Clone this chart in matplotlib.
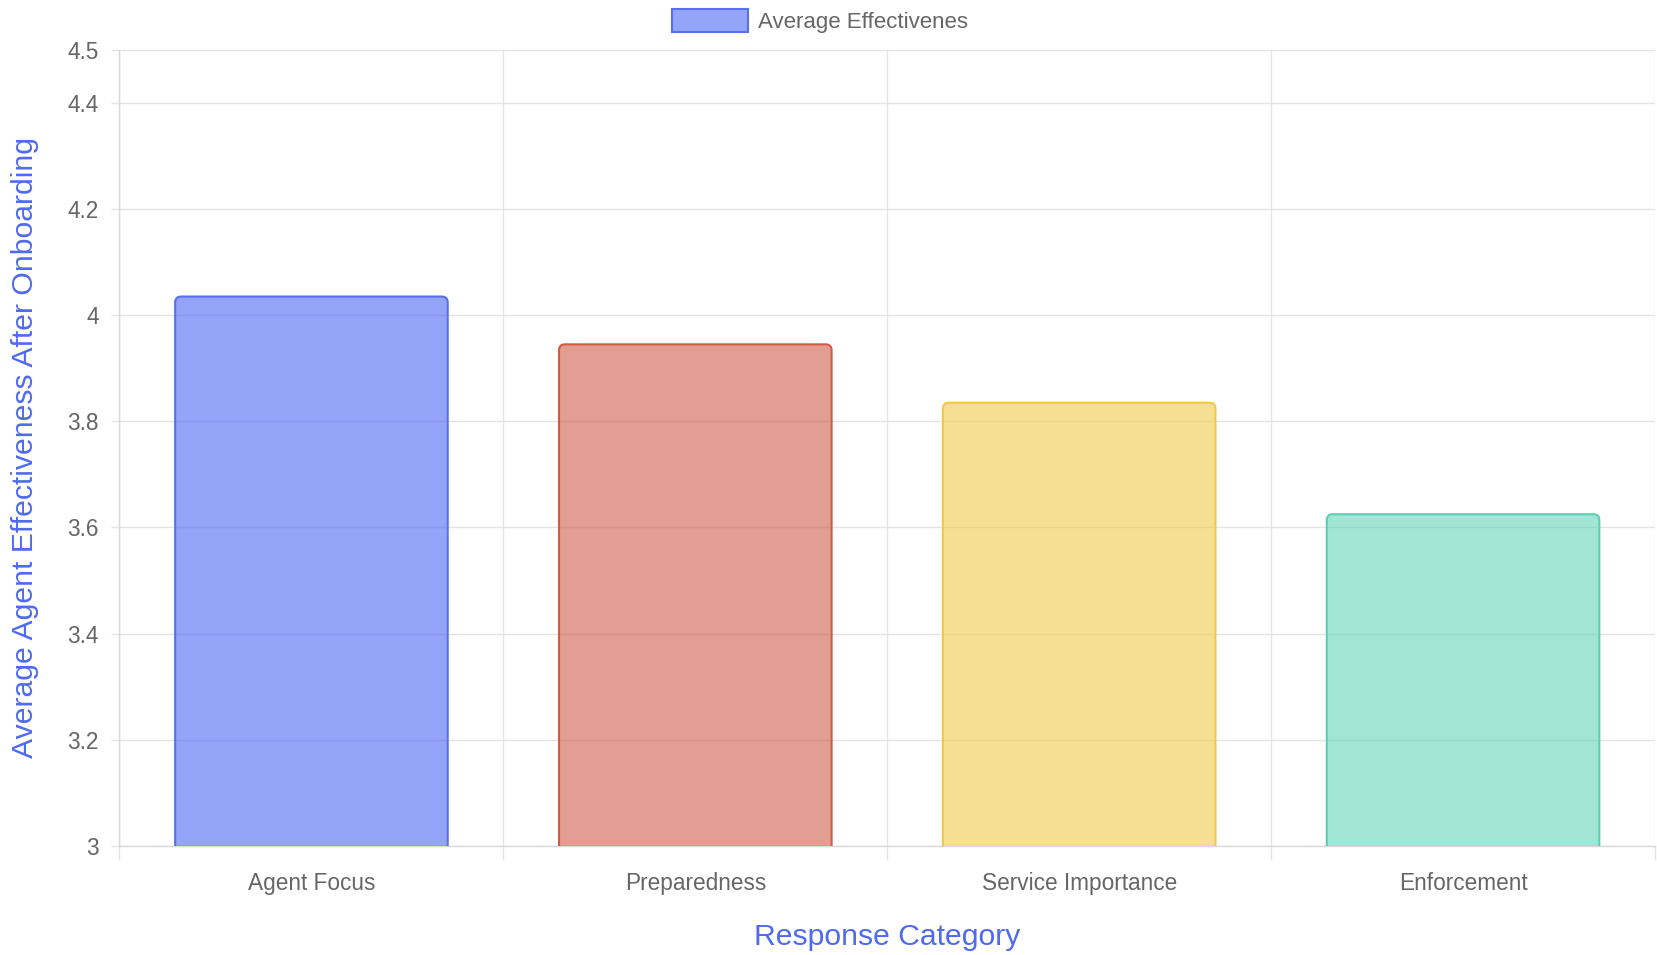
import matplotlib
matplotlib.use("Agg")
import matplotlib.pyplot as plt
from matplotlib.patches import FancyBboxPatch, Patch
from matplotlib.ticker import FixedLocator

# Data
categories = ["Agent Focus", "Preparedness", "Service Importance", "Enforcement"]
effectiveness = [4.035, 3.945, 3.835, 3.625]
y_ticks = [3, 3.2, 3.4, 3.6, 3.8, 4, 4.2, 4.4, 4.5]
y_tick_labels = ["3", "3.2", "3.4", "3.6", "3.8", "4", "4.2", "4.4", "4.5"]
series_label = "Average Effectivenes"
x_title = "Response Category"
y_title = "Average Agent Effectiveness After Onboarding"

base_rgb = [(77, 103, 243), (208, 93, 73), (243, 202, 72), (97, 213, 188)]
edge_rgb = [(88, 112, 240), (214, 88, 66), (242, 200, 75), (95, 205, 180)]

def rgba(c, a):
    return (c[0] / 255, c[1] / 255, c[2] / 255, a)

plt.rcParams["font.family"] = ["Liberation Sans", "DejaVu Sans"]
TEXT = "#666666"
GRID = "#e4e4e4"
TITLE = "#4f6af0"

W, H, DPI = 1658, 955, 100
fig = plt.figure(figsize=(W / DPI, H / DPI), dpi=DPI)
left, right, top, bottom = 119.5, 1655, 49.7, 846
ax = fig.add_axes([left / W, 1 - bottom / H, (right - left) / W, (bottom - top) / H])

ymin, ymax = 3, 4.5
ax.set_xlim(-0.5, len(categories) - 0.5)
ax.set_ylim(ymin, ymax)

# Bars: draw with ax.bar, then swap each rectangle for a rounded-top patch
bar_width = 0.71
bars = ax.bar(range(len(categories)), [v - ymin for v in effectiveness],
              bottom=ymin, width=bar_width)
px_x = (len(categories)) / (right - left)
px_y = (ymax - ymin) / (bottom - top)
radius_px = 6
for i, rect in enumerate(bars.patches):
    x0 = rect.get_x()
    w = rect.get_width()
    y_top = rect.get_y() + rect.get_height()
    y_base = ymin - 10 * px_y  # hide lower corners below the axis
    rect.set_visible(False)
    patch = FancyBboxPatch(
        (x0, y_base), w, y_top - y_base,
        boxstyle=f"round,pad=0,rounding_size={radius_px * px_x}",
        mutation_aspect=px_y / px_x,
        facecolor=rgba(base_rgb[i], 0.6),
        edgecolor=rgba(edge_rgb[i], 1.0),
        linewidth=1.5, zorder=3, clip_on=True,
    )
    ax.add_patch(patch)

# Axes styling
for s in ["top", "right"]:
    ax.spines[s].set_visible(False)
for s in ["left", "bottom"]:
    ax.spines[s].set_color("#d9d9d9")
    ax.spines[s].set_linewidth(1.0)

ax.yaxis.set_major_locator(FixedLocator(y_ticks))
ax.set_yticklabels(y_tick_labels)
ax.set_xticks(range(len(categories)))
ax.set_xticklabels(categories)
ax.xaxis.set_minor_locator(FixedLocator([i - 0.5 for i in range(len(categories) + 1)]))

ax.tick_params(axis="y", which="major", length=6, width=1, color=GRID,
               labelsize=16.3, labelcolor=TEXT, pad=9)
ax.tick_params(axis="x", which="major", length=0, labelsize=16.3,
               labelcolor=TEXT, pad=18.5)
ax.tick_params(axis="x", which="minor", length=10, width=1, color=GRID)

ax.grid(True, axis="y", which="major", color=GRID, linewidth=1.0, zorder=0)
ax.grid(True, axis="x", which="minor", color=GRID, linewidth=1.0, zorder=0)
ax.grid(False, axis="x", which="major")
ax.set_axisbelow(True)

# Axis titles
fig.text(887 / W, 1 - 937 / H, x_title, ha="center", va="center",
         fontsize=21.7, color=TITLE)
fig.text(25 / W, 1 - 448 / H, y_title, ha="center", va="center",
         rotation=90, fontsize=21.7, color=TITLE)

# Legend
handle = Patch(facecolor=rgba(base_rgb[0], 0.6), edgecolor=rgba(edge_rgb[0], 1.0),
               linewidth=1.5)
fig.legend([handle], [series_label], loc="center", bbox_to_anchor=(820 / W, 1 - 21 / H),
           frameon=False, fontsize=16, labelcolor=TEXT, handlelength=3.4,
           handleheight=1.25, handletextpad=0.45, borderpad=0)

fig.savefig("out.png", dpi=DPI)
